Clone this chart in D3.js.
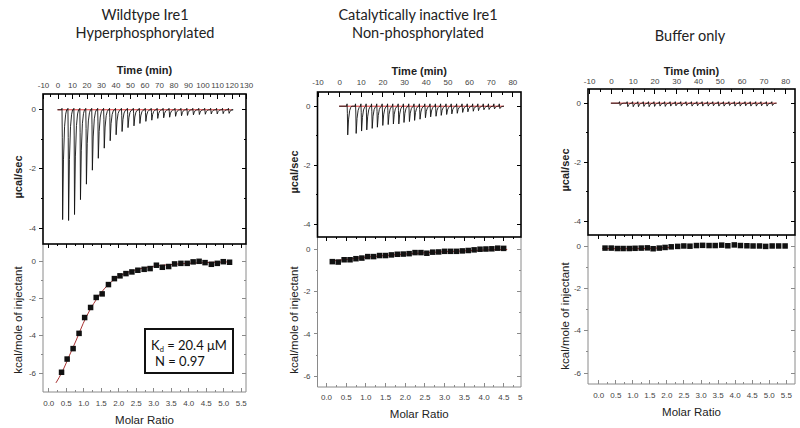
<!DOCTYPE html>
<html><head><meta charset="utf-8">
<script src="https://cdn.jsdelivr.net/npm/d3@7"></script>
<style>body{margin:0;background:#fff} svg{display:block}</style>
</head><body><svg id="c" width="800" height="428"></svg>
<script>
// ---------------- data ----------------
const titles = [["Wildtype Ire1","Hyperphosphorylated"],["Catalytically inactive Ire1","Non-phosphorylated"],["Buffer only"]];
const timeTicksA = [-10,0,10,20,30,40,50,60,70,80,90,100,110,120,130];
const timeTicksB = [-10,0,10,20,30,40,50,60,70,80];
const molarTicksA = [0,0.5,1,1.5,2,2.5,3,3.5,4,4.5,5,5.5];
const molarTicksB = [0,0.5,1,1.5,2,2.5,3,3.5,4,4.5,5];
const powerTicks = [0,-2,-4];
const heatTicks = [0,-2,-4,-6];

const p1InjTime = [3.3,7.4,11.5,15.6,19.7,23.8,27.9,32.0,36.1,40.2,44.3,48.4,52.5,56.6,60.7,64.8,68.9,73.0,77.1,81.2,85.3,89.4,93.5,97.6,101.7,105.8,109.9,114.0,118.1];
const p1Peak = [-3.69,-3.72,-3.52,-3.02,-2.5,-2.03,-1.63,-1.29,-1.04,-0.84,-0.73,-0.6,-0.54,-0.46,-0.39,-0.35,-0.29,-0.27,-0.25,-0.22,-0.2,-0.19,-0.17,-0.16,-0.15,-0.14,-0.14,-0.13,-0.12];
const p1Baseline = [[0,-0.03],[120,-0.03]];
const p1Ratio = [0.38,0.54,0.71,0.88,1.04,1.21,1.37,1.54,1.72,1.89,2.05,2.22,2.39,2.56,2.74,2.91,3.09,3.26,3.44,3.61,3.79,3.97,4.14,4.31,4.48,4.66,4.83,5.0,5.18];
const p1Heat = [-5.98,-5.27,-4.71,-3.89,-3.04,-2.5,-1.96,-1.77,-1.27,-0.95,-0.8,-0.68,-0.59,-0.5,-0.45,-0.41,-0.23,-0.34,-0.3,-0.16,-0.13,-0.13,-0.05,-0.02,-0.09,-0.18,-0.13,-0.04,-0.07];
const p1FitX = [0.22,0.4,0.6,0.8,1.0,1.2,1.4,1.6,1.8,2.0,2.2,2.4,2.6,2.8,3.0,3.4,3.8,4.2,4.6,5.2];
const p1FitY = [-6.55,-5.95,-5.1,-4.25,-3.35,-2.6,-2.0,-1.5,-1.12,-0.85,-0.66,-0.53,-0.43,-0.35,-0.29,-0.21,-0.15,-0.11,-0.08,-0.05];

const p2InjTime = [3.8,7.7,10.2,12.6,15.1,17.5,20.0,22.5,24.9,27.4,29.8,32.3,34.7,37.2,39.7,42.1,44.6,47.0,49.5,51.9,54.4,56.9,59.3,61.8,64.2,66.7,69.1,71.6,74.1];
const p2Peak = [-0.97,-0.92,-0.84,-0.8,-0.75,-0.71,-0.65,-0.62,-0.6,-0.6,-0.55,-0.52,-0.48,-0.44,-0.39,-0.36,-0.34,-0.31,-0.28,-0.26,-0.24,-0.21,-0.19,-0.17,-0.15,-0.12,-0.11,-0.09,-0.08];
const p2Baseline = [[0,-0.02],[76,-0.02]];
const p2Ratio = [0.16,0.31,0.46,0.61,0.76,0.91,1.06,1.21,1.36,1.51,1.66,1.81,1.96,2.11,2.26,2.41,2.56,2.71,2.86,3.01,3.16,3.31,3.46,3.61,3.76,3.91,4.06,4.21,4.36,4.51];
const p2Heat = [-0.59,-0.61,-0.5,-0.5,-0.45,-0.42,-0.35,-0.35,-0.3,-0.3,-0.27,-0.24,-0.23,-0.21,-0.16,-0.16,-0.19,-0.14,-0.13,-0.1,-0.1,-0.1,-0.08,-0.06,-0.03,0.0,0.01,0.02,0.05,0.04];
const p2FitX = [0.15,0.5,1.0,1.5,2.0,2.5,3.0,3.5,4.0,4.6];
const p2FitY = [-0.56,-0.49,-0.38,-0.3,-0.23,-0.17,-0.12,-0.08,-0.04,-0.01];

const p3InjTime = [4.1,7.6,10.1,12.5,15.0,17.4,19.9,22.4,24.8,27.3,29.7,32.2,34.6,37.1,39.6,42.0,44.5,46.9,49.4,51.8,54.3,56.8,59.2,61.7,64.1,66.6,69.0,71.5,74.0];
const p3Peak = [-0.08,-0.12,-0.12,-0.12,-0.11,-0.12,-0.11,-0.1,-0.11,-0.1,-0.09,-0.1,-0.08,-0.1,-0.09,-0.1,-0.1,-0.09,-0.1,-0.1,-0.08,-0.1,-0.1,-0.09,-0.1,-0.1,-0.09,-0.1,-0.08];
const p3Baseline = [[0,-0.02],[76,-0.02]];
const p3Ratio = [0.2,0.38,0.56,0.73,0.91,1.08,1.26,1.44,1.61,1.79,1.96,2.14,2.33,2.51,2.69,2.88,3.06,3.25,3.43,3.62,3.8,3.99,4.17,4.36,4.54,4.73,4.91,5.1,5.29,5.48];
const p3Heat = [-0.1,-0.1,-0.12,-0.12,-0.12,-0.11,-0.1,-0.09,-0.13,-0.1,-0.07,-0.04,-0.02,0,-0.01,0.02,0.03,0.02,0.02,0.04,0.01,0.05,0.02,0.01,0,0,-0.02,0,0,0];
const p3FitX = [0.12,0.6,1.0,1.6,2.15];
const p3FitY = [-0.12,-0.13,-0.13,-0.11,-0.06];

// ---------------- layout ----------------
const svg = d3.select('#c');
const AX = '"Liberation Sans", Arial, sans-serif';
const TF = 'Lato, "Open Sans", sans-serif';

const panels = [
 {title:titles[0], tx:145, tyy:[20,37.5], x0:43, x1:246, yTop:94, yMid:244, yBot:392,
  timeDom:[-10,130], topDom:[-4.54,0.5], molDom:[-0.15,5.65], botDom:[-7.04,0.91],
  timeTicks:timeTicksA, molTicks:molarTicksA, timeLab:74, timeTickLab:88, molTickLab:406, molLab:424,
  yLabX:22, pwY:177, htY:320, over:0.05, fitColor:'#a83232',
  inj:p1InjTime, peak:p1Peak, base:p1Baseline, ratio:p1Ratio, heat:p1Heat, fx:p1FitX, fy:p1FitY},
 {title:titles[1], tx:418, tyy:[20,37.5], x0:317.5, x1:521, yTop:92, yMid:237, yBot:387,
  timeDom:[-10,84], topDom:[-4.44,0.46], molDom:[-0.216,4.95], botDom:[-6.54,0.58],
  timeTicks:timeTicksB, molTicks:molarTicksB, timeLab:75, timeTickLab:85, molTickLab:400, molLab:418,
  yLabX:298, pwY:172, htY:320, over:0.08, fitColor:'#c83030', clip:523,
  inj:p2InjTime, peak:p2Peak, base:p2Baseline, ratio:p2Ratio, heat:p2Heat, fx:p2FitX, fy:p2FitY},
 {title:titles[2], tx:690, tyy:[41], x0:588, x1:795, yTop:89, yMid:235, yBot:384,
  timeDom:[-10.5,84.5], topDom:[-4.49,0.46], molDom:[-0.3,5.77], botDom:[-6.54,0.52],
  timeTicks:timeTicksB, molTicks:molarTicksA, timeLab:75, timeTickLab:84, molTickLab:398, molLab:416,
  yLabX:569, pwY:170, htY:316, over:0.05, fitColor:'#c83030',
  inj:p3InjTime, peak:p3Peak, base:p3Baseline, ratio:p3Ratio, heat:p3Heat, fx:p3FitX, fy:p3FitY}
];

// spike glyph profile: [px offset from injection, fraction of peak, fraction of overshoot]
const spikeProfile = [[-0.8,0,0],[-0.3,0,1],[0,0.25,0],[0.35,1,0],[1.2,0.45,0],[2.3,0.15,0],[3.4,0.04,0],[4.4,0,0]];

function styleAxis(sel, color){
  sel.select('.domain').remove();
  sel.selectAll('line').attr('stroke', color).attr('stroke-width', 1).attr('shape-rendering','crispEdges');
  sel.selectAll('text').attr('fill','#444').attr('font-size', 8).attr('font-family', AX);
}
function minorOf(ticks, step){
  const out=[]; for(let i=0;i<ticks.length-1;i++) out.push(ticks[i]+step/2);
  return out;
}

panels.forEach((c,pi)=>{
  let g = svg.append('g');
  if (c.clip){
    svg.append('clipPath').attr('id','clip'+pi).append('rect').attr('x',0).attr('y',0).attr('width',c.clip).attr('height',428);
    g.attr('clip-path',`url(#clip${pi})`);
  }
  const xT = d3.scaleLinear().domain(c.timeDom).range([c.x0,c.x1]);
  const yT = d3.scaleLinear().domain(c.topDom).range([c.yMid,c.yTop]);
  const xM = d3.scaleLinear().domain(c.molDom).range([c.x0,c.x1]);
  const yB = d3.scaleLinear().domain(c.botDom).range([c.yBot,c.yMid]);

  // titles
  c.title.forEach((t,i)=>{
    g.append('text').attr('x',c.tx).attr('y',c.tyy[i]).attr('text-anchor','middle')
     .attr('font-family',TF).attr('font-size',14.5).attr('fill','#222').text(t);
  });
  g.append('text').attr('x',(c.x0+c.x1)/2).attr('y',c.timeLab).attr('text-anchor','middle')
   .attr('font-family',AX).attr('font-size',11).attr('font-weight','bold').attr('fill','#222').text('Time (min)');

  // ---- top (raw power) panel ----
  const tAx = g.append('g').attr('transform',`translate(0,${c.yTop})`)
    .call(d3.axisTop(xT).tickValues(c.timeTicks).tickSizeInner(-5).tickSizeOuter(0).tickPadding(c.yTop-c.timeTickLab).tickFormat(d=>String(d)));
  styleAxis(tAx,'#000');
  const tAxm = g.append('g').attr('transform',`translate(0,${c.yTop})`)
    .call(d3.axisTop(xT).tickValues(minorOf(c.timeTicks,10)).tickSizeInner(-3).tickSizeOuter(0).tickFormat(''));
  styleAxis(tAxm,'#000');

  const lAx = g.append('g').attr('transform',`translate(${c.x0},0)`)
    .call(d3.axisLeft(yT).tickValues(powerTicks).tickSizeInner(4).tickSizeOuter(0).tickPadding(3).tickFormat(d=>String(d)));
  styleAxis(lAx,'#000');
  const lAxm = g.append('g').attr('transform',`translate(${c.x0},0)`)
    .call(d3.axisLeft(yT).tickValues([-1,-3]).tickSizeInner(2).tickSizeOuter(0).tickFormat(''));
  styleAxis(lAxm,'#000');
  const rAx = g.append('g').attr('transform',`translate(${c.x1},0)`)
    .call(d3.axisRight(yT).tickValues(powerTicks).tickSizeInner(-4).tickSizeOuter(0).tickFormat(''));
  styleAxis(rAx,'#000');
  const rAxm = g.append('g').attr('transform',`translate(${c.x1},0)`)
    .call(d3.axisRight(yT).tickValues([-1,-3]).tickSizeInner(-2).tickSizeOuter(0).tickFormat(''));
  styleAxis(rAxm,'#000');

  g.append('text').attr('transform',`translate(${c.yLabX},${c.pwY}) rotate(-90)`).attr('text-anchor','middle')
   .attr('font-family',AX).attr('font-size',11).attr('font-weight','bold').attr('fill','#222').text('µcal/sec');

  // thermogram trace built from injections
  const trace = [[c.base[0][0], c.base[0][1]]];
  c.inj.forEach((t,i)=>{
    const px = xT(t);
    spikeProfile.forEach(p=>{
      trace.push([xT.invert(px+p[0]), c.base[0][1] + c.peak[i]*p[1] + c.over*p[2]]);
    });
  });
  trace.push([c.base[1][0], c.base[1][1]]);
  g.append('path').datum(c.base).attr('fill','none').attr('stroke','#e03838').attr('stroke-width',1)
   .attr('d', d3.line().x(d=>xT(d[0])).y(d=>yT(d[1])));
  g.append('path').datum(trace).attr('fill','none').attr('stroke','#111').attr('stroke-width',0.9)
   .attr('d', d3.line().x(d=>xT(d[0])).y(d=>yT(d[1])));

  // ---- bottom (integrated heat) panel ----
  const gray = '#8a8a8a';
  g.append('line').attr('x1',c.x0).attr('x2',c.x0).attr('y1',c.yMid).attr('y2',c.yBot).attr('stroke',gray);
  g.append('line').attr('x1',c.x1).attr('x2',c.x1).attr('y1',c.yMid).attr('y2',c.yBot).attr('stroke',gray);
  g.append('line').attr('x1',c.x0).attr('x2',c.x1).attr('y1',c.yBot).attr('y2',c.yBot).attr('stroke',gray);

  const bAx = g.append('g').attr('transform',`translate(0,${c.yBot})`)
    .call(d3.axisBottom(xM).tickValues(c.molTicks).tickSizeInner(-4).tickSizeOuter(0).tickPadding(c.molTickLab-c.yBot).tickFormat(d3.format('.1f')));
  styleAxis(bAx,gray);
  bAx.selectAll('text').attr('dy','0em');
  const bAxm = g.append('g').attr('transform',`translate(0,${c.yBot})`)
    .call(d3.axisBottom(xM).tickValues(minorOf(c.molTicks,0.5)).tickSizeInner(-2).tickSizeOuter(0).tickFormat(''));
  styleAxis(bAxm,gray);
  const mTop = g.append('g').attr('transform',`translate(0,${c.yMid})`)
    .call(d3.axisBottom(xM).tickValues(c.molTicks).tickSizeInner(4).tickSizeOuter(0).tickFormat(''));
  styleAxis(mTop,'#000');
  const mTopm = g.append('g').attr('transform',`translate(0,${c.yMid})`)
    .call(d3.axisBottom(xM).tickValues(minorOf(c.molTicks,0.5)).tickSizeInner(2).tickSizeOuter(0).tickFormat(''));
  styleAxis(mTopm,'#000');

  const hl = g.append('g').attr('transform',`translate(${c.x0},0)`)
    .call(d3.axisLeft(yB).tickValues(heatTicks).tickSizeInner(4).tickSizeOuter(0).tickPadding(3).tickFormat(d=>String(d)));
  styleAxis(hl,gray);
  const hlm = g.append('g').attr('transform',`translate(${c.x0},0)`)
    .call(d3.axisLeft(yB).tickValues([-1,-3,-5]).tickSizeInner(2).tickSizeOuter(0).tickFormat(''));
  styleAxis(hlm,gray);
  const hr = g.append('g').attr('transform',`translate(${c.x1},0)`)
    .call(d3.axisRight(yB).tickValues(heatTicks).tickSizeInner(-4).tickSizeOuter(0).tickFormat(''));
  styleAxis(hr,gray);
  const hrm = g.append('g').attr('transform',`translate(${c.x1},0)`)
    .call(d3.axisRight(yB).tickValues([-1,-3,-5]).tickSizeInner(-2).tickSizeOuter(0).tickFormat(''));
  styleAxis(hrm,gray);

  g.append('text').attr('transform',`translate(${c.yLabX},${c.htY}) rotate(-90)`).attr('text-anchor','middle')
   .attr('font-family',AX).attr('font-size',11.5).attr('fill','#222').text('kcal/mole of injectant');
  g.append('text').attr('x',(c.x0+c.x1)/2).attr('y',c.molLab).attr('text-anchor','middle')
   .attr('font-family',AX).attr('font-size',11.5).attr('fill','#222').text('Molar Ratio');

  // fit line
  const fit = c.fx.map((x,i)=>[x,c.fy[i]]);
  g.append('path').datum(fit).attr('fill','none').attr('stroke',c.fitColor).attr('stroke-width',1)
   .attr('d', d3.line().curve(d3.curveMonotoneX).x(d=>xM(d[0])).y(d=>yB(d[1])));
  // points
  const s = 5.5;
  g.selectAll('rect.pt').data(c.ratio.map((x,i)=>[x,c.heat[i]])).enter().append('rect').attr('class','pt')
   .attr('x',d=>xM(d[0])-s/2).attr('y',d=>yB(d[1])-s/2).attr('width',s).attr('height',s).attr('fill','#111');

  // top frame (drawn last, thick black)
  g.append('rect').attr('x',c.x0).attr('y',c.yTop).attr('width',c.x1-c.x0).attr('height',c.yMid-c.yTop)
   .attr('fill','none').attr('stroke','#000').attr('stroke-width',1.6);

  if (pi===0){
    g.append('rect').attr('x',145).attr('y',329).attr('width',88).attr('height',44)
     .attr('fill','#fff').attr('stroke','#111').attr('stroke-width',2);
    const t1 = g.append('text').attr('x',151).attr('y',350).attr('font-family',TF).attr('font-size',13).attr('fill','#111');
    t1.append('tspan').text('K');
    t1.append('tspan').attr('font-size',7.5).attr('dy',2).text('d');
    t1.append('tspan').attr('dy',-2).text(' = 20.4 μM');
    g.append('text').attr('x',155).attr('y',366).attr('font-family',TF).attr('font-size',13).attr('fill','#111').text('N = 0.97');
  }
});
</script></body></html>
